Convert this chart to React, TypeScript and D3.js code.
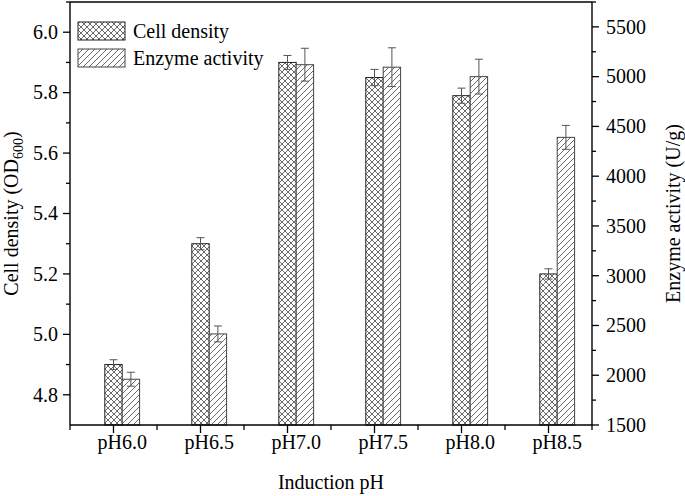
import React from "react"
import * as d3 from "d3"

// values
const categories = ["pH6.0", "pH6.5", "pH7.0", "pH7.5", "pH8.0", "pH8.5"]
const cellDensity = [4.9, 5.3, 5.9, 5.85, 5.79, 5.2]
const cellDensityErr = [0.016, 0.02, 0.023, 0.027, 0.025, 0.017]
const enzymeActivity = [1960, 2415, 5120, 5095, 5000, 4390]
const enzymeActivityErr = [70, 80, 165, 195, 175, 120]
const leftTicks = [4.8, 5.0, 5.2, 5.4, 5.6, 5.8, 6.0]
const rightTicks = [1500, 2000, 2500, 3000, 3500, 4000, 4500, 5000, 5500]

const W = 685
const H = 496
const left = 70
const right = 592
const top = 2
const bottom = 425
const font = "'Liberation Serif', 'Times New Roman', serif"

export default function App() {
  const x = d3.scaleBand().domain(categories).range([left, right])
  const yL = d3.scaleLinear().domain([4.7, 6.1]).range([bottom, top])
  const yR = d3.scaleLinear().domain([1500, 5750]).range([bottom, top])
  const bw = x.bandwidth() * 0.2
  const tickX = (c: string) => (x(c) as number) + x.bandwidth() / 2

  const leftMinor = d3.range(4.9, 6.15, 0.2)
  const rightMinor = d3.range(1750, 5800, 500)
  const bandEdges = categories.map((c) => x(c) as number).concat([right])

  const errBar = (cx: number, y0: number, y1: number, key: string) => (
    <g key={key} stroke="#555" strokeWidth={1}>
      <line x1={cx} x2={cx} y1={y0} y2={y1} />
      <line x1={cx - 4} x2={cx + 4} y1={y0} y2={y0} />
      <line x1={cx - 4} x2={cx + 4} y1={y1} y2={y1} />
    </g>
  )

  return (
    <svg
      width={W}
      height={H}
      style={{ position: "fixed", left: 0, top: 0, background: "#fff" }}
      fontFamily={font}
    >
      <defs>
        <pattern id="cross" width={6} height={6} patternUnits="userSpaceOnUse">
          <rect width={6} height={6} fill="#fff" />
          <path d="M0,0 L6,6 M6,0 L0,6" stroke="#444" strokeWidth={0.8} />
        </pattern>
        <pattern id="diag" width={6} height={6} patternUnits="userSpaceOnUse">
          <rect width={6} height={6} fill="#fff" />
          <path d="M0,6 L6,0 M-1.5,1.5 L1.5,-1.5 M4.5,7.5 L7.5,4.5" stroke="#444" strokeWidth={0.8} />
        </pattern>
      </defs>

      {/* bars */}
      {categories.map((c, i) => {
        const cx = tickX(c)
        return (
          <g key={c}>
            <rect
              x={cx - bw / 2}
              y={yL(cellDensity[i])}
              width={bw}
              height={bottom - yL(cellDensity[i])}
              fill="url(#cross)"
              stroke="#222"
              strokeWidth={1}
            />
            <rect
              x={cx + bw / 2}
              y={yR(enzymeActivity[i])}
              width={bw}
              height={bottom - yR(enzymeActivity[i])}
              fill="url(#diag)"
              stroke="#444"
              strokeWidth={1}
            />
            {errBar(cx, yL(cellDensity[i] + cellDensityErr[i]), yL(cellDensity[i] - cellDensityErr[i]), "ec" + i)}
            {errBar(
              cx + bw,
              yR(enzymeActivity[i] + enzymeActivityErr[i]),
              yR(enzymeActivity[i] - enzymeActivityErr[i]),
              "ee" + i
            )}
          </g>
        )
      })}

      {/* frame */}
      <g stroke="#000" strokeWidth={1.4} fill="none">
        <line x1={left} x2={right} y1={top} y2={top} />
        <line x1={left} x2={right} y1={bottom} y2={bottom} />
        <line x1={left} x2={left} y1={top} y2={bottom} />
        <line x1={right} x2={right} y1={top} y2={bottom} />
      </g>

      {/* left axis */}
      <g stroke="#000" strokeWidth={1.3}>
        {leftTicks.map((t) => (
          <line key={t} x1={left - 7} x2={left} y1={yL(t)} y2={yL(t)} />
        ))}
        {leftMinor.map((t) => (
          <line key={t} x1={left - 4} x2={left} y1={yL(t)} y2={yL(t)} />
        ))}
      </g>
      {leftTicks.map((t) => (
        <text key={t} x={left - 12} y={yL(t)} dy="0.34em" textAnchor="end" fontSize={20}>
          {t.toFixed(1)}
        </text>
      ))}

      {/* right axis */}
      <g stroke="#000" strokeWidth={1.3}>
        {rightTicks.map((t) => (
          <line key={t} x1={right} x2={right + 7} y1={yR(t)} y2={yR(t)} />
        ))}
        {rightMinor.map((t) => (
          <line key={t} x1={right} x2={right + 4} y1={yR(t)} y2={yR(t)} />
        ))}
      </g>
      {rightTicks.map((t) => (
        <text key={t} x={right + 14} y={yR(t)} dy="0.34em" textAnchor="start" fontSize={20}>
          {t}
        </text>
      ))}

      {/* bottom axis */}
      <g stroke="#000" strokeWidth={1.3}>
        {categories.map((c) => (
          <line key={c} x1={tickX(c)} x2={tickX(c)} y1={bottom} y2={bottom + 8} />
        ))}
        {bandEdges.map((e, i) => (
          <line key={i} x1={e} x2={e} y1={bottom} y2={bottom + 5} />
        ))}
      </g>
      {categories.map((c) => (
        <text key={c} x={tickX(c) + bw / 2} y={bottom + 24} textAnchor="middle" fontSize={20}>
          {c}
        </text>
      ))}

      {/* axis titles */}
      <text x={(left + right) / 2} y={489} textAnchor="middle" fontSize={20}>
        Induction pH
      </text>
      <text
        transform={`translate(18,${(top + bottom) / 2}) rotate(-90)`}
        textAnchor="middle"
        fontSize={20}
      >
        Cell density (OD
        <tspan fontSize={14} dy={5}>600</tspan>
        <tspan dy={-5}>)</tspan>
      </text>
      <text
        transform={`translate(680,${(top + bottom) / 2}) rotate(-90)`}
        textAnchor="middle"
        fontSize={20}
      >
        Enzyme activity (U/g)
      </text>

      {/* legend */}
      <rect x={78} y={22} width={47} height={18} fill="url(#cross)" stroke="#222" strokeWidth={1} />
      <rect x={78} y={49} width={47} height={18} fill="url(#diag)" stroke="#444" strokeWidth={1} />
      <text x={133} y={38} fontSize={20}>
        Cell density
      </text>
      <text x={133} y={65} fontSize={20}>
        Enzyme activity
      </text>
    </svg>
  )
}
